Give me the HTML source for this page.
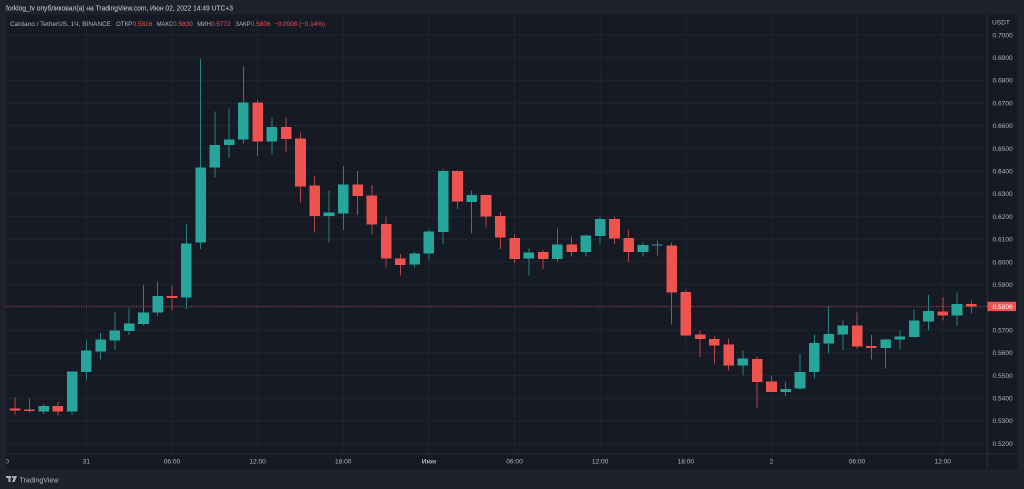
<!DOCTYPE html>
<html><head><meta charset="utf-8">
<style>
html,body{margin:0;padding:0;background:#1f222b;width:1024px;height:489px;overflow:hidden}
svg{display:block}
text{font-family:"Liberation Sans","Noto Sans CJK JP",sans-serif}
</style></head>
<body>
<svg width="1024" height="489" viewBox="0 0 1024 489" xmlns="http://www.w3.org/2000/svg">
<defs>
<clipPath id="plot"><rect x="6" y="14.5" width="981" height="439.5"/></clipPath>
<clipPath id="taxis"><rect x="6" y="454" width="981" height="15"/></clipPath>
</defs>
<rect x="0" y="0" width="1024" height="489" fill="#1f222b"/>
<text x="6" y="10.3" font-size="7" fill="#d1d4dc" textLength="227" lengthAdjust="spacingAndGlyphs">forklog_tv опубликовал(а) на TradingView.com, Июн 02, 2022 14:49 UTC+3</text>
<rect x="6" y="14.5" width="1012" height="455" fill="#161a25"/>

<!-- grid -->
<g stroke="#20242f" stroke-width="1" clip-path="url(#plot)">
<line x1="6" x2="987" y1="35" y2="35"/><line x1="6" x2="987" y1="57.7" y2="57.7"/><line x1="6" x2="987" y1="80.4" y2="80.4"/><line x1="6" x2="987" y1="103.1" y2="103.1"/><line x1="6" x2="987" y1="125.8" y2="125.8"/><line x1="6" x2="987" y1="148.5" y2="148.5"/><line x1="6" x2="987" y1="171.2" y2="171.2"/><line x1="6" x2="987" y1="193.9" y2="193.9"/><line x1="6" x2="987" y1="216.6" y2="216.6"/><line x1="6" x2="987" y1="239.3" y2="239.3"/><line x1="6" x2="987" y1="262" y2="262"/><line x1="6" x2="987" y1="284.7" y2="284.7"/><line x1="6" x2="987" y1="307.4" y2="307.4"/><line x1="6" x2="987" y1="330.1" y2="330.1"/><line x1="6" x2="987" y1="352.8" y2="352.8"/><line x1="6" x2="987" y1="375.5" y2="375.5"/><line x1="6" x2="987" y1="398.2" y2="398.2"/><line x1="6" x2="987" y1="420.9" y2="420.9"/><line x1="6" x2="987" y1="443.6" y2="443.6"/>
<line y1="14.5" y2="454" x1="86.4" x2="86.4"/><line y1="14.5" y2="454" x1="172" x2="172"/><line y1="14.5" y2="454" x1="257.6" x2="257.6"/><line y1="14.5" y2="454" x1="343.2" x2="343.2"/><line y1="14.5" y2="454" x1="428.9" x2="428.9"/><line y1="14.5" y2="454" x1="514.5" x2="514.5"/><line y1="14.5" y2="454" x1="600.1" x2="600.1"/><line y1="14.5" y2="454" x1="685.8" x2="685.8"/><line y1="14.5" y2="454" x1="771.4" x2="771.4"/><line y1="14.5" y2="454" x1="857" x2="857" /><line y1="14.5" y2="454" x1="942.7" x2="942.7"/>
</g>

<!-- header -->
<g font-size="6.6">
<text x="10" y="26" fill="#b2b5be" textLength="101" lengthAdjust="spacingAndGlyphs">Cardano / TetherUS, 1Ч, BINANCE</text>
<text x="116" y="26" fill="#b2b5be" textLength="16.3" lengthAdjust="spacingAndGlyphs">ОТКР</text>
<text x="132.7" y="26" fill="#ef5350" textLength="19.6" lengthAdjust="spacingAndGlyphs">0.5816</text>
<text x="156.7" y="26" fill="#b2b5be" textLength="16.2" lengthAdjust="spacingAndGlyphs">МАКС</text>
<text x="173" y="26" fill="#ef5350" textLength="19.7" lengthAdjust="spacingAndGlyphs">0.5830</text>
<text x="197.3" y="26" fill="#b2b5be" textLength="13.6" lengthAdjust="spacingAndGlyphs">МИН</text>
<text x="211" y="26" fill="#ef5350" textLength="19.7" lengthAdjust="spacingAndGlyphs">0.5772</text>
<text x="235.3" y="26" fill="#b2b5be" textLength="15.3" lengthAdjust="spacingAndGlyphs">ЗАКР</text>
<text x="250.7" y="26" fill="#ef5350" textLength="20" lengthAdjust="spacingAndGlyphs">0.5806</text>
<text x="274" y="26" fill="#ef5350" textLength="51" lengthAdjust="spacingAndGlyphs">−0.0008 (−0.14%)</text>
</g>

<!-- price line -->
<line x1="6" x2="987" y1="306.4" y2="306.4" stroke="#ef5350" stroke-opacity="0.75" stroke-width="1" stroke-dasharray="1,1.5"/>

<!-- candles -->
<g clip-path="url(#plot)" shape-rendering="crispEdges">
<g fill="#22857b">
<rect x="0.2" y="404" width="1" height="15"/>
<rect x="43.05" y="404" width="1" height="10"/>
<rect x="71.59" y="371.7" width="1" height="43.3"/>
<rect x="85.87" y="340.7" width="1" height="39.6"/>
<rect x="100.14" y="333" width="1" height="26.7"/>
<rect x="114.41" y="312" width="1" height="37.7"/>
<rect x="128.68" y="308.7" width="1" height="26.3"/>
<rect x="142.96" y="285" width="1" height="40.7"/>
<rect x="157.23" y="281.7" width="1" height="34.3"/>
<rect x="185.78" y="224.3" width="1" height="84.7"/>
<rect x="200.05" y="59" width="1" height="190"/>
<rect x="214.32" y="111.7" width="1" height="66"/>
<rect x="228.6" y="108.3" width="1" height="49"/>
<rect x="242.87" y="66" width="1" height="77.3"/>
<rect x="271.41" y="117.3" width="1" height="37"/>
<rect x="328.51" y="190.3" width="1" height="52"/>
<rect x="342.78" y="166" width="1" height="64"/>
<rect x="414.14" y="252" width="1" height="15.3"/>
<rect x="428.42" y="230" width="1" height="30.3"/>
<rect x="442.69" y="169.3" width="1" height="74.7"/>
<rect x="471.24" y="190.7" width="1" height="43"/>
<rect x="528.33" y="248.7" width="1" height="26.6"/>
<rect x="556.87" y="228.3" width="1" height="33.7"/>
<rect x="585.42" y="234.3" width="1" height="22"/>
<rect x="599.69" y="216.7" width="1" height="27.3"/>
<rect x="642.51" y="242" width="1" height="14.7"/>
<rect x="656.79" y="240.7" width="1" height="15"/>
<rect x="742.42" y="350.3" width="1" height="25.4"/>
<rect x="785.24" y="382" width="1" height="14"/>
<rect x="799.52" y="354" width="1" height="35.3"/>
<rect x="813.79" y="334.3" width="1" height="44"/>
<rect x="828.06" y="306.7" width="1" height="47"/>
<rect x="842.33" y="320.7" width="1" height="29.6"/>
<rect x="885.15" y="339" width="1" height="29.7"/>
<rect x="899.43" y="330.7" width="1" height="19"/>
<rect x="913.7" y="309.3" width="1" height="27.7"/>
<rect x="927.97" y="295" width="1" height="35.7"/>
<rect x="956.52" y="292.3" width="1" height="33.7"/>
</g>
<g fill="#b84646">
<rect x="14.5" y="397.7" width="1" height="16.6"/>
<rect x="28.77" y="398.3" width="1" height="14.4"/>
<rect x="57.32" y="402" width="1" height="13.7"/>
<rect x="171.5" y="286" width="1" height="24"/>
<rect x="257.14" y="100" width="1" height="56"/>
<rect x="285.69" y="117.3" width="1" height="35"/>
<rect x="299.96" y="132.7" width="1" height="70"/>
<rect x="314.23" y="176.7" width="1" height="56"/>
<rect x="357.05" y="171" width="1" height="44"/>
<rect x="371.33" y="185" width="1" height="49.3"/>
<rect x="385.6" y="216.7" width="1" height="50.6"/>
<rect x="399.87" y="254" width="1" height="21.3"/>
<rect x="456.96" y="170" width="1" height="39"/>
<rect x="485.51" y="195" width="1" height="32.3"/>
<rect x="499.78" y="212" width="1" height="37"/>
<rect x="514.06" y="234.7" width="1" height="28.3"/>
<rect x="542.6" y="250" width="1" height="19"/>
<rect x="571.15" y="236.7" width="1" height="19.6"/>
<rect x="613.97" y="216.7" width="1" height="27.3"/>
<rect x="628.24" y="230" width="1" height="32"/>
<rect x="671.06" y="242.7" width="1" height="82"/>
<rect x="685.33" y="290" width="1" height="46.7"/>
<rect x="699.6" y="330.7" width="1" height="26.3"/>
<rect x="713.88" y="336.7" width="1" height="26.6"/>
<rect x="728.15" y="339" width="1" height="31.3"/>
<rect x="756.7" y="356.7" width="1" height="50.6"/>
<rect x="770.97" y="375.7" width="1" height="16.3"/>
<rect x="856.61" y="312.7" width="1" height="36"/>
<rect x="870.88" y="335" width="1" height="24.3"/>
<rect x="942.25" y="297" width="1" height="23.7"/>
<rect x="970.79" y="300.7" width="1" height="13"/>
</g>
<g fill="#26a69a">
<rect x="-4.6" y="408" width="10.6" height="9"/>
<rect x="38.25" y="406" width="10.6" height="5.3"/>
<rect x="66.79" y="371.7" width="10.6" height="40"/>
<rect x="81.07" y="350.3" width="10.6" height="21.7"/>
<rect x="95.34" y="339.7" width="10.6" height="11.6"/>
<rect x="109.61" y="330.7" width="10.6" height="10"/>
<rect x="123.88" y="323.3" width="10.6" height="7.7"/>
<rect x="138.16" y="312.3" width="10.6" height="11.7"/>
<rect x="152.43" y="296" width="10.6" height="16.7"/>
<rect x="180.98" y="243.3" width="10.6" height="54.4"/>
<rect x="195.25" y="167.7" width="10.6" height="75"/>
<rect x="209.52" y="145" width="10.6" height="22.7"/>
<rect x="223.8" y="139.7" width="10.6" height="5.3"/>
<rect x="238.07" y="102.7" width="10.6" height="36.6"/>
<rect x="266.61" y="127" width="10.6" height="14.3"/>
<rect x="323.71" y="212.3" width="10.6" height="3.7"/>
<rect x="337.98" y="184.3" width="10.6" height="29"/>
<rect x="409.34" y="253.3" width="10.6" height="11"/>
<rect x="423.62" y="231.7" width="10.6" height="21.6"/>
<rect x="437.89" y="171" width="10.6" height="61"/>
<rect x="466.44" y="195" width="10.6" height="7"/>
<rect x="523.53" y="252.3" width="10.6" height="6.4"/>
<rect x="552.07" y="244.7" width="10.6" height="14.3"/>
<rect x="580.62" y="235.7" width="10.6" height="16.3"/>
<rect x="594.89" y="219" width="10.6" height="17"/>
<rect x="637.71" y="245" width="10.6" height="7"/>
<rect x="651.99" y="244.4" width="10.6" height="1.3"/>
<rect x="737.62" y="358.7" width="10.6" height="6.6"/>
<rect x="780.44" y="389" width="10.6" height="3"/>
<rect x="794.72" y="372" width="10.6" height="16.7"/>
<rect x="808.99" y="343" width="10.6" height="29"/>
<rect x="823.26" y="334" width="10.6" height="9.7"/>
<rect x="837.53" y="325.7" width="10.6" height="8.6"/>
<rect x="880.35" y="339.3" width="10.6" height="8.7"/>
<rect x="894.63" y="336.3" width="10.6" height="3"/>
<rect x="908.9" y="320.7" width="10.6" height="16.3"/>
<rect x="923.17" y="311" width="10.6" height="10.7"/>
<rect x="951.72" y="304" width="10.6" height="11.3"/>
</g>
<g fill="#ef5350">
<rect x="9.7" y="408.5" width="10.6" height="2"/>
<rect x="23.97" y="409.3" width="10.6" height="1.9"/>
<rect x="52.52" y="406" width="10.6" height="5.7"/>
<rect x="166.7" y="296" width="10.6" height="1.8"/>
<rect x="252.34" y="102.7" width="10.6" height="38.6"/>
<rect x="280.89" y="127" width="10.6" height="12"/>
<rect x="295.16" y="138.3" width="10.6" height="48"/>
<rect x="309.43" y="185.3" width="10.6" height="30.7"/>
<rect x="352.25" y="184.3" width="10.6" height="11.7"/>
<rect x="366.53" y="195.7" width="10.6" height="28.6"/>
<rect x="380.8" y="224" width="10.6" height="34.3"/>
<rect x="395.07" y="258.3" width="10.6" height="6.7"/>
<rect x="452.16" y="171" width="10.6" height="30.3"/>
<rect x="480.71" y="195" width="10.6" height="21.7"/>
<rect x="494.98" y="216" width="10.6" height="21.7"/>
<rect x="509.26" y="238" width="10.6" height="21"/>
<rect x="537.8" y="252" width="10.6" height="7"/>
<rect x="566.35" y="244.3" width="10.6" height="7.7"/>
<rect x="609.17" y="219" width="10.6" height="19.7"/>
<rect x="623.44" y="238" width="10.6" height="14"/>
<rect x="666.26" y="245.7" width="10.6" height="47"/>
<rect x="680.53" y="292" width="10.6" height="43.7"/>
<rect x="694.8" y="334.7" width="10.6" height="4.3"/>
<rect x="709.08" y="339" width="10.6" height="6.7"/>
<rect x="723.35" y="344.7" width="10.6" height="20.6"/>
<rect x="751.9" y="359" width="10.6" height="23"/>
<rect x="766.17" y="381.7" width="10.6" height="10.3"/>
<rect x="851.81" y="325.7" width="10.6" height="20.6"/>
<rect x="866.08" y="346" width="10.6" height="2"/>
<rect x="937.45" y="311.3" width="10.6" height="4"/>
<rect x="965.99" y="304" width="10.6" height="2.3"/>
</g>
</g>

<!-- axes separators -->
<line x1="987.3" x2="987.3" y1="14.5" y2="469" stroke="#2a2e39" stroke-width="1"/>
<line x1="6" x2="1018" y1="454" y2="454" stroke="#2a2e39" stroke-width="1"/>

<!-- price axis labels -->
<g font-size="6.6" fill="#b2b5be">
<text x="992" y="24.5">USDT</text>
<text x="992.5" y="37.3">0.7000</text>
<text x="992.5" y="60">0.6900</text>
<text x="992.5" y="82.7">0.6800</text>
<text x="992.5" y="105.4">0.6700</text>
<text x="992.5" y="128.1">0.6600</text>
<text x="992.5" y="150.8">0.6500</text>
<text x="992.5" y="173.5">0.6400</text>
<text x="992.5" y="196.2">0.6300</text>
<text x="992.5" y="218.9">0.6200</text>
<text x="992.5" y="241.6">0.6100</text>
<text x="992.5" y="264.3">0.6000</text>
<text x="992.5" y="287">0.5900</text>
<text x="992.5" y="332.4">0.5700</text>
<text x="992.5" y="355.1">0.5600</text>
<text x="992.5" y="377.8">0.5500</text>
<text x="992.5" y="400.5">0.5400</text>
<text x="992.5" y="423.2">0.5300</text>
<text x="992.5" y="445.9">0.5200</text>
</g>
<rect x="987.5" y="301.7" width="28.5" height="9.4" fill="#ef5350"/>
<text x="992.5" y="308.8" font-size="6.6" fill="#ffffff">0.5806</text>

<!-- time axis labels -->
<g font-size="6.6" fill="#b2b5be" text-anchor="middle" clip-path="url(#taxis)">
<text x="0.7" y="463.6">18:00</text>
<text x="86.4" y="463.6">31</text>
<text x="172" y="463.6">06:00</text>
<text x="257.6" y="463.6">12:00</text>
<text x="343.2" y="463.6">18:00</text>
<text x="428.9" y="463.6" font-weight="bold">Июн</text>
<text x="514.5" y="463.6">06:00</text>
<text x="600.1" y="463.6">12:00</text>
<text x="685.8" y="463.6">18:00</text>
<text x="771.4" y="463.6">2</text>
<text x="857" y="463.6">06:00</text>
<text x="942.7" y="463.6">12:00</text>
</g>

<!-- footer logo -->
<g fill="#b2b5be">
<rect x="6" y="476" width="5" height="2"/>
<rect x="8.5" y="476" width="2" height="6"/>
<circle cx="13" cy="477" r="1.1"/>
<polygon points="14.5,476 17,476 14.5,482 12,482"/>
</g>
<text x="19.5" y="482.3" font-size="7.3" fill="#b2b5be" textLength="39" lengthAdjust="spacingAndGlyphs">TradingView</text>
</svg>
</body></html>
